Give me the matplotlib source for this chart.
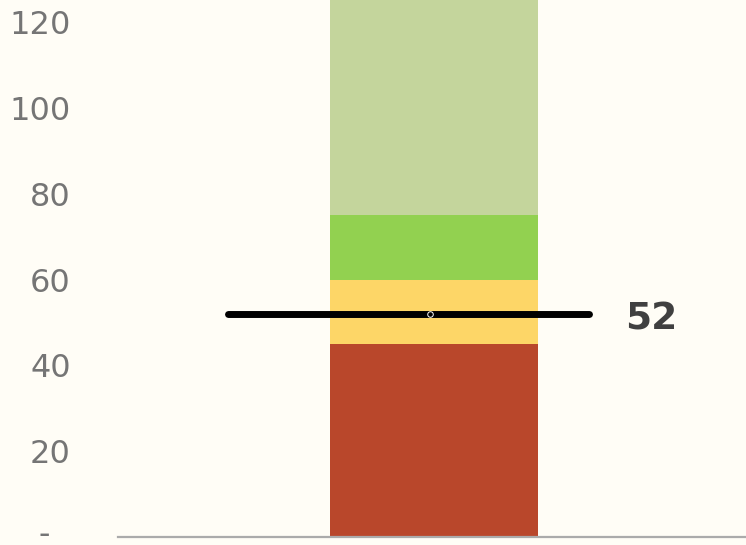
import matplotlib
matplotlib.use("Agg")
import matplotlib.pyplot as plt
import matplotlib.transforms as mtransforms

# bands of the bullet bar (bottom, top) and their colours
band_bottoms = [0, 45, 60, 75]
band_tops = [45, 60, 75, 130]
band_colors = ["#B9472B", "#FDD667", "#92D150", "#C4D59C"]

actual_value = 52
y_ticks = [0, 20, 40, 60, 80, 100, 120]
y_tick_labels = ["-  ", "20", "40", "60", "80", "100", "120"]

bg = "#FFFDF6"

fig = plt.figure(figsize=(7.46, 5.45), dpi=100, facecolor=bg)
ax = fig.add_axes([118 / 746, 1 - 537 / 545, 628 / 746, 537 / 545])
ax.set_facecolor(bg)

# stacked bands
for b, t, c in zip(band_bottoms, band_tops, band_colors):
    ax.bar(0, t - b, bottom=b, width=1.0, color=c, linewidth=0, zorder=2)

# marker line for the actual value
ax.plot([-0.99, 0.747], [actual_value, actual_value], color="black",
        linewidth=5, solid_capstyle="round", zorder=3)
ax.plot([-0.02], [actual_value], marker="o", markersize=4, markerfacecolor="black",
        markeredgecolor="white", markeredgewidth=0.7, zorder=4)
ax.annotate(str(actual_value), xy=(0.92, actual_value), xytext=(0, -4.3),
            textcoords="offset points", fontsize=27, fontweight="bold",
            color="#404040", va="center", ha="left", zorder=5)

ax.set_xlim(-1.52, 1.50)
ax.set_ylim(0, 125.2)
ax.set_xticks([])
ax.set_yticks(y_ticks)
ax.set_yticklabels(y_tick_labels, fontsize=23, color="#757575")
ax.tick_params(axis="y", length=0, pad=34)

# lift the zero dash a little so it sits on the baseline like the reference
zero_lbl = ax.get_yticklabels()[0]
zero_lbl.set_transform(zero_lbl.get_transform()
                       + mtransforms.ScaledTranslation(0, 0.055, fig.dpi_scale_trans))

for s in ["top", "right", "left"]:
    ax.spines[s].set_visible(False)
ax.spines["bottom"].set_color("#ABABAB")
ax.spines["bottom"].set_linewidth(1.6)
ax.spines["bottom"].set_zorder(6)

fig.savefig("out.png", dpi=100, facecolor=bg)
